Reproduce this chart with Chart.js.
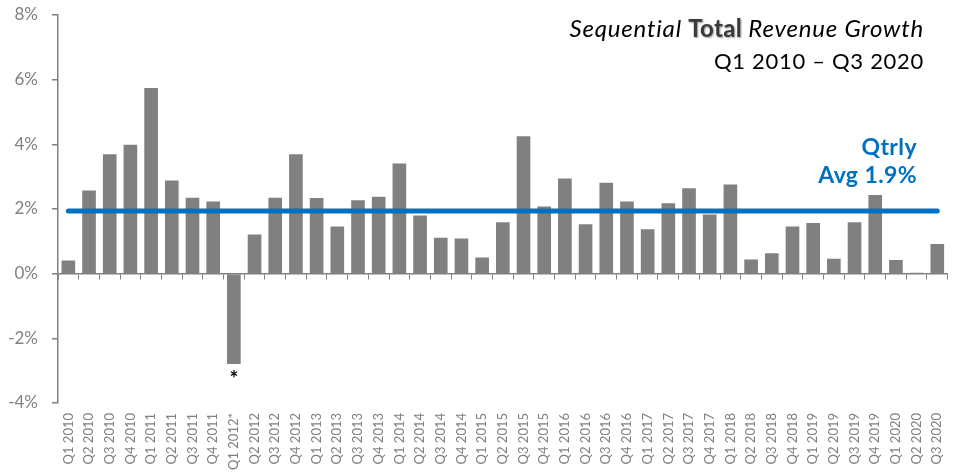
<!DOCTYPE html>
<html>
<head>
<meta charset="utf-8">
<script src="https://cdn.jsdelivr.net/npm/chart.js@4.4.1/dist/chart.umd.min.js"></script>
<style>
  html, body { margin: 0; padding: 0; background: #ffffff; }
  #wrap { position: relative; width: 963px; height: 476px; overflow: hidden; }
  .ttl {
    position: absolute; right: 39px; text-align: right;
    font-family: Lato, "Open Sans", sans-serif; color: #000; white-space: nowrap;
  }
  #title1 { top: 12px; font-size: 24px; line-height: 32px; letter-spacing: 0.8px; font-style: italic; }
  #title1 .tot { font-style: normal; font-weight: bold; color: #3a3a3a; text-shadow: 1px 1px 2px #9a9a9a; letter-spacing: 0.3px; }
  #title2 { top: 45px; font-size: 22px; line-height: 32px; letter-spacing: 0.7px; }
  #avg {
    position: absolute; right: 46px; top: 132px; text-align: right;
    font-family: Lato, "Open Sans", sans-serif; font-size: 23px; line-height: 28px;
    letter-spacing: 0.4px; font-weight: bold; color: #0070C0; white-space: nowrap;
  }
</style>
</head>
<body>
<div id="wrap">
  <canvas id="chart"></canvas>
  <div id="title1" class="ttl">Sequential <span class="tot">Total</span> Revenue Growth</div>
  <div id="title2" class="ttl">Q1 2010 – Q3 2020</div>
  <div id="avg">Qtrly<br>Avg 1.9%</div>
</div>
<script>
// ---- data ----
const categories = [
  'Q1 2010','Q2 2010','Q3 2010','Q4 2010',
  'Q1 2011','Q2 2011','Q3 2011','Q4 2011',
  'Q1 2012*','Q2 2012','Q3 2012','Q4 2012',
  'Q1 2013','Q2 2013','Q3 2013','Q4 2013',
  'Q1 2014','Q2 2014','Q3 2014','Q4 2014',
  'Q1 2015','Q2 2015','Q3 2015','Q4 2015',
  'Q1 2016','Q2 2016','Q3 2016','Q4 2016',
  'Q1 2017','Q2 2017','Q3 2017','Q4 2017',
  'Q1 2018','Q2 2018','Q3 2018','Q4 2018',
  'Q1 2019','Q2 2019','Q3 2019','Q4 2019',
  'Q1 2020','Q2 2020','Q3 2020'
];
const revenueGrowth = [
  0.41, 2.57, 3.69, 3.99,
  5.74, 2.88, 2.35, 2.23,
  -2.79, 1.21, 2.35, 3.69,
  2.34, 1.46, 2.27, 2.38,
  3.41, 1.80, 1.11, 1.09,
  0.50, 1.59, 4.25, 2.08,
  2.94, 1.53, 2.81, 2.23,
  1.37, 2.18, 2.64, 1.83,
  2.76, 0.44, 0.63, 1.46,
  1.57, 0.46, 1.59, 2.43,
  0.42, 0.03, 0.92
];
const qtrlyAvg = 1.94;
const avgSeries = categories.map(() => qtrlyAvg);
const yTickValues = [-4, -2, 0, 2, 4, 6, 8];
const footnoteLabel = 'Q1 2012*';

// ---- chart ----
const GRAY = '#808080';
const footnotePlugin = {
  id: 'footnote',
  afterDatasetsDraw(chart) {
    const idx = categories.indexOf(footnoteLabel);
    const bar = chart.getDatasetMeta(1).data[idx];
    if (!bar) return;
    const ctx = chart.ctx;
    ctx.save();
    ctx.fillStyle = '#000';
    ctx.font = 'bold 21px Lato, sans-serif';
    ctx.textAlign = 'center';
    ctx.textBaseline = 'middle';
    ctx.fillText('*', bar.x, bar.y + 15);
    ctx.restore();
  }
};

new Chart(document.getElementById('chart'), {
  type: 'bar',
  data: {
    labels: categories,
    datasets: [
      {
        type: 'line',
        label: 'Qtrly Avg',
        data: avgSeries,
        borderColor: '#0070C0',
        borderWidth: 5,
        borderCapStyle: 'round',
        pointRadius: 0,
        fill: false,
        order: 0,
        xAxisID: 'x'
      },
      {
        type: 'bar',
        label: 'Sequential Total Revenue Growth',
        data: revenueGrowth,
        backgroundColor: GRAY,
        borderWidth: 0,
        barPercentage: 0.66,
        categoryPercentage: 1.0,
        order: 1,
        xAxisID: 'x'
      }
    ]
  },
  options: {
    responsive: true,
    maintainAspectRatio: false,
    animation: false,
    layout: { padding: { top: 15, right: 8, left: 0, bottom: 0 } },
    plugins: { legend: { display: false }, tooltip: { enabled: false }, title: { display: false } },
    scales: {
      x: {
        type: 'category',
        position: 'bottom',
        offset: true,
        grid: { display: false, drawTicks: false, offset: true },
        border: { display: false },
        ticks: {
          autoSkip: false, maxRotation: 90, minRotation: 90, padding: 10,
          color: GRAY, font: { family: 'Lato', size: 13 }
        },
        afterFit(scale) { scale.height = 73; }
      },
      x0: {
        axis: 'x',
        type: 'category',
        position: { y: 0 },
        offset: true,
        z: 1,
        grid: { offset: true, drawOnChartArea: false, drawTicks: true, tickLength: 5, color: GRAY, lineWidth: 1 },
        border: { display: true, color: GRAY, width: 1.5 },
        ticks: { display: false }
      },
      y: {
        type: 'linear',
        position: 'left',
        min: -4, max: 8,
        grid: { display: true, drawOnChartArea: false, drawTicks: true, tickLength: 6, color: GRAY, lineWidth: 1.5 },
        border: { display: true, color: GRAY, width: 1.5 },
        afterBuildTicks(scale) { scale.ticks = yTickValues.map(v => ({ value: v })); },
        ticks: {
          padding: 14,
          color: GRAY,
          font: { family: 'Lato', size: 17 },
          callback: (v) => v + '%'
        },
        afterFit(scale) {
          scale.width = 58;
          scale.paddingTop = 8;
          scale.paddingBottom = 8;
        }
      }
    }
  },
  plugins: [footnotePlugin]
});
</script>
</body>
</html>
